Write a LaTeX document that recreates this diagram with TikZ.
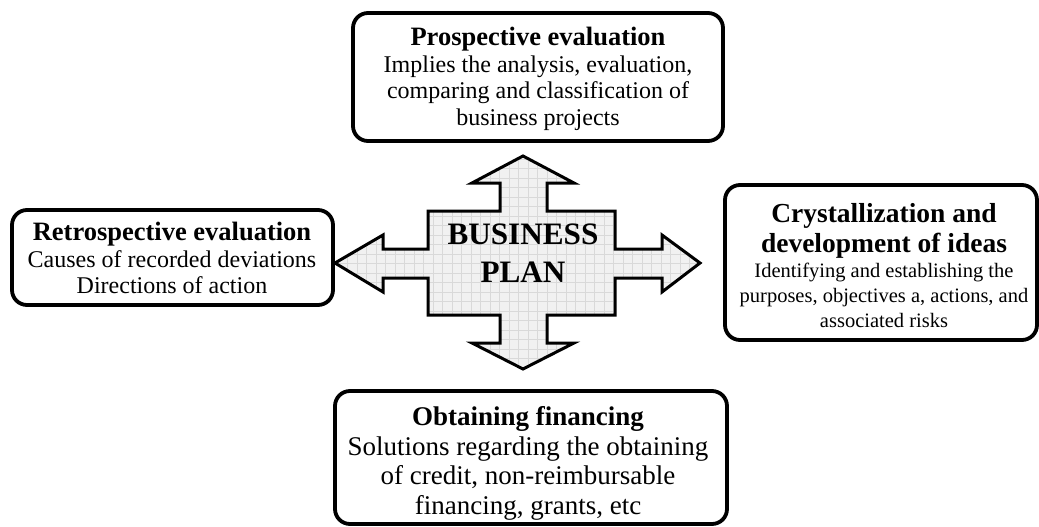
\documentclass[tikz,border=0pt]{standalone}
\usepackage{fontspec}
\setmainfont{Liberation Serif}
\begin{document}
\begin{tikzpicture}[x=1pt,y=-1pt,
  infobox/.style={draw=black, line width=3.8pt, rounded corners=15pt, fill=white,
    inner sep=0pt},
  boxtext/.style={anchor=north, align=flush center, inner sep=0pt},
  hub/.style={draw=black, line width=3pt, line join=miter, fill=gray!11},
  gridline/.style={draw=gray!30, line width=0.4pt}]
\useasboundingbox (0,0) rectangle (1039,527);

% four-way arrow with a light grid inside
\path[hub, path picture={
    \foreach \gx in {0,9.5,...,400} \draw[gridline] (300+\gx,140) -- (300+\gx,380);
    \foreach \gy in {0,9.5,...,240} \draw[gridline] (320,140+\gy) -- (720,140+\gy);
  }]
  (428,211) -- (500,211) -- (500,183) -- (472,183) -- (523,156) -- (574,183)
  -- (547,183) -- (547,211) -- (615,211) -- (615,249) -- (662,249) -- (662,235)
  -- (700,263) -- (662,292) -- (662,278) -- (615,278) -- (615,315) -- (547,315)
  -- (547,343) -- (574,343) -- (523,369) -- (472,343) -- (500,343) -- (500,315)
  -- (428,315) -- (428,278) -- (383,278) -- (383,292) -- (335,263) -- (383,235)
  -- (383,249) -- (428,249) -- cycle;
\node[boxtext, text width=180pt] (plan) at (523,224)
  {\fontsize{31.2}{38}\selectfont\bfseries BUSINESS\\PLAN\par};

% outer boxes
\node[infobox, minimum width=370pt, minimum height=128pt] (prosp) at (538,77) {};
\node[infobox, minimum width=321pt, minimum height=95pt] (retro) at (172.5,257.5) {};
\node[infobox, minimum width=312pt, minimum height=155pt] (cryst) at (881,262.5) {};
\node[infobox, minimum width=392pt, minimum height=133pt] (finance) at (531,457.5) {};

% box texts: a bold heading paragraph, then the description
\node[boxtext, text width=360pt] (prosptxt) at (538,27)
  {{\fontsize{26.5}{30}\selectfont\bfseries Prospective evaluation\par}
   \fontsize{24}{26.5}\selectfont Implies the analysis, evaluation,\\
   comparing and classification of\\ business projects\par};

\node[boxtext, text width=313pt] (retrotxt) at (172,222)
  {{\fontsize{26.5}{30}\selectfont\bfseries Retrospective evaluation\par}
   \fontsize{24}{26.5}\selectfont Causes of recorded deviations\\
   Directions of action\par};

\node[boxtext, text width=306pt] (crysttxt) at (884,203)
  {{\fontsize{27.5}{30}\selectfont\bfseries Crystallization and\\ development of ideas\par}
   \fontsize{20.5}{25}\selectfont Identifying and establishing the\\
   purposes, objectives a, actions, and\\ associated risks\par};

\node[boxtext, text width=384pt] (financetxt) at (528,406.5)
  {{\fontsize{27}{29.5}\selectfont\bfseries Obtaining financing\par}
   \fontsize{27}{29.5}\selectfont Solutions regarding the obtaining\\
   of credit, non-reimbursable\\ financing, grants, etc\par};
\end{tikzpicture}
\end{document}
